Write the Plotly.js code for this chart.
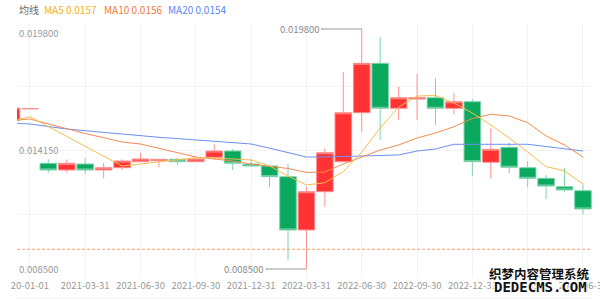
<!DOCTYPE html>
<html>
<head>
<meta charset="utf-8">
<script src="https://cdn.plot.ly/plotly-3.0.1.min.js"></script>
<style>html,body{margin:0;padding:0;background:#fff;}#chart{width:600px;height:301px;}</style>
</head>
<body>
<div id="chart"></div>
<script>
// ---- data (monthly candles) ----
var months = ["2020-11","2020-12","2021-01","2021-02","2021-03","2021-04","2021-05","2021-06","2021-07","2021-08","2021-09","2021-10","2021-11","2021-12","2022-01","2022-02","2022-03","2022-04","2022-05","2022-06","2022-07","2022-08","2022-09","2022-10","2022-11","2022-12","2023-01","2023-02","2023-03","2023-04","2023-05","2023-06"];
var openVals  = [0.015492,0.016048,0.013477,0.013162,0.013444,0.013162,0.013270,0.013552,0.013600,0.013665,0.013552,0.013760,0.014056,0.013444,0.013350,0.012846,0.010337,0.012140,0.013552,0.015859,0.018185,0.016067,0.016504,0.016566,0.016067,0.016377,0.013524,0.014230,0.013270,0.012771,0.012375,0.012187];
var highVals  = [0.016081,0.016049,0.013665,0.013665,0.013741,0.013505,0.013665,0.013976,0.013665,0.013741,0.013680,0.014372,0.014150,0.013680,0.013370,0.013444,0.012375,0.014183,0.017776,0.019800,0.019409,0.017084,0.017681,0.017479,0.016773,0.016490,0.015125,0.014447,0.013585,0.012926,0.013270,0.012489];
var lowVals   = [0.015492,0.016048,0.013035,0.013035,0.012973,0.012771,0.013162,0.013552,0.013289,0.013397,0.013552,0.013633,0.013162,0.013317,0.012347,0.008925,0.008500,0.011434,0.013552,0.014965,0.014574,0.015516,0.015516,0.015280,0.015784,0.012879,0.012771,0.013006,0.012347,0.011782,0.012140,0.011076];
var closeVals = [0.016081,0.016049,0.013162,0.013477,0.013162,0.013270,0.013585,0.013680,0.013665,0.013552,0.013680,0.014056,0.013477,0.013350,0.012846,0.010337,0.012140,0.013976,0.015859,0.018185,0.016067,0.016566,0.016566,0.016067,0.016377,0.013552,0.014136,0.013289,0.012771,0.012408,0.012220,0.011326];
var ma5  = [0.015450,0.015671,0.015205,0.014739,0.014278,0.013807,0.013350,0.013444,0.013538,0.013633,0.013741,0.013727,0.013680,0.013633,0.013350,0.012879,0.012456,0.012564,0.013082,0.014009,0.015139,0.016128,0.016646,0.016669,0.016316,0.015845,0.015280,0.014668,0.014009,0.013326,0.013115,0.012503];
var ma10 = [0.015497,0.015563,0.015332,0.015101,0.014880,0.014682,0.014480,0.014386,0.014179,0.013981,0.013774,0.013680,0.013585,0.013444,0.013350,0.013232,0.013044,0.013068,0.013444,0.013774,0.014103,0.014339,0.014668,0.014904,0.015200,0.015586,0.015784,0.015704,0.015389,0.014762,0.014339,0.013774];
var ma20 = [0.015374,0.015327,0.015210,0.015092,0.015012,0.014927,0.014843,0.014762,0.014701,0.014640,0.014574,0.014513,0.014452,0.014386,0.014188,0.013990,0.013774,0.013774,0.013788,0.013821,0.013844,0.013868,0.014056,0.014150,0.014372,0.014372,0.014372,0.014372,0.014372,0.014268,0.014150,0.014056];
var tickMonths = ["2020-12","2021-03","2021-06","2021-09","2021-12","2022-03","2022-06","2022-09","2022-12","2023-03","2023-06"];
var tickLabels = ["20-01-01","2021-03-31","2021-06-30","2021-09-30","2021-12-31","2022-03-31","2022-06-30","2022-09-30","2022-12-31","2023-03-31","2023-06-30"];
var legendLabel = "均线";
var legendItems = ["MA5 0.0157","MA10 0.0156","MA20 0.0154"];
var refLine = 0.009428;
var yMin = 0.008076, yMax = 0.020083;
var watermark1 = "织梦内容管理系统", watermark2 = "DEDECMS.COM";

// ---- derived ----
var maxHigh = Math.max.apply(null, highVals), minLow = Math.min.apply(null, lowVals);
var iMax = highVals.indexOf(maxHigh), iMin = lowVals.indexOf(minLow);
var gridVals = []; for (var g = 0; g <= 4; g++) gridVals.push(yMin + (yMax - yMin) * g / 4);

var FONT = '"Noto Sans CJK SC", "Noto Sans", sans-serif';
var cMA5 = '#f8bd4e', cMA10 = '#f58b4f', cMA20 = '#6e8ef4';

var traces = [
  {type:'candlestick', x: months, open: openVals, high: highVals, low: lowVals, close: closeVals,
   increasing:{fillcolor:'#ff3333', line:{color:'#ff9090', width:1}},
   decreasing:{fillcolor:'#0aa95f', line:{color:'#7fd4ad', width:1}},
   whiskerwidth:0, hoverinfo:'skip', showlegend:false},
  {type:'scatter', mode:'lines', x: months, y: ma20, line:{color:cMA20, width:1}, hoverinfo:'skip', showlegend:false},
  {type:'scatter', mode:'lines', x: months, y: ma10, line:{color:cMA10, width:1}, hoverinfo:'skip', showlegend:false},
  {type:'scatter', mode:'lines', x: months, y: ma5, line:{color:cMA5, width:1}, hoverinfo:'skip', showlegend:false}
];

var lblFont = {family: FONT, size: 9.5, color:'#999'};
var annotations = [
  {xref:'paper', yref:'paper', x:0, y:1, xanchor:'left', yanchor:'top', yshift:-1, text:maxHigh.toFixed(6), showarrow:false, font:lblFont},
  {xref:'paper', yref:'paper', x:0, y:0.5, xanchor:'left', yanchor:'middle', yshift:1, text:((maxHigh+minLow)/2).toFixed(6), showarrow:false, font:lblFont},
  {xref:'paper', yref:'paper', x:0, y:0, xanchor:'left', yanchor:'bottom', yshift:0, text:minLow.toFixed(6), showarrow:false, font:lblFont},
  {xref:'x', yref:'y', x: iMax, y: maxHigh, ax:-40, ay:0, axref:'pixel', ayref:'pixel', xanchor:'right', text:maxHigh.toFixed(6), showarrow:true, arrowhead:0, arrowwidth:1, arrowcolor:'#999', arrowside:'end+start', startarrowhead:6, startarrowsize:0.4, font:{family:FONT,size:9.5,color:'#888'}},
  {xref:'x', yref:'y', x: iMin, y: minLow, ax:-40, ay:0, axref:'pixel', ayref:'pixel', xanchor:'right', text:minLow.toFixed(6), showarrow:true, arrowhead:0, arrowwidth:1, arrowcolor:'#999', arrowside:'end+start', startarrowhead:6, startarrowsize:0.4, font:{family:FONT,size:9.5,color:'#888'}},
  {xref:'paper', yref:'paper', x:0, y:1.0549, xanchor:'left', yanchor:'middle', text:legendLabel, showarrow:false, font:{family:FONT,size:10,color:'#666'}},
  {xref:'paper', yref:'paper', x:0.0435, y:1.0549, xanchor:'left', yanchor:'middle', text:legendItems[0], showarrow:false, font:{family:FONT,size:10,color:'#f5b026'}},
  {xref:'paper', yref:'paper', x:0.1478, y:1.0549, xanchor:'left', yanchor:'middle', text:legendItems[1], showarrow:false, font:{family:FONT,size:10,color:'#f5793f'}},
  {xref:'paper', yref:'paper', x:0.2591, y:1.0549, xanchor:'left', yanchor:'middle', text:legendItems[2], showarrow:false, font:{family:FONT,size:10,color:'#5b86f5'}},
  {xref:'paper', yref:'paper', x:0.9087, y:0.0196, xanchor:'center', yanchor:'middle', text:'<b>'+watermark1+'</b>', showarrow:false,
   font:{family:FONT,size:12.5,color:'#111', shadow:'1px 1px 0 #fff, -1px -1px 0 #fff, 1px -1px 0 #fff, -1px 1px 0 #fff, 0 1px 1px #bbb'}},
  {xref:'paper', yref:'paper', x:0.9104, y:-0.034, xanchor:'center', yanchor:'middle', text:'<b>'+watermark2+'</b>', showarrow:false,
   font:{family:'"DejaVu Sans Mono", monospace',size:14,color:'#111', shadow:'1px 1px 0 #fff, -1px -1px 0 #fff, 1px -1px 0 #fff, -1px 1px 0 #fff, 0 1px 1px #bbb'}}
];

var shapes = [
  {type:'line', xref:'paper', yref:'y', x0:0, x1:1, y0:refLine, y1:refLine, line:{color:'#f8a070', width:1, dash:'3px,2px'}},
  {type:'line', xref:'paper', yref:'paper', x0:0, x1:1, y0:-0.078, y1:-0.078, line:{color:'#f0f0f0', width:1}}
];

var layout = {
  width:600, height:301,
  margin:{l:17, r:8, t:23, b:23, pad:0},
  paper_bgcolor:'#fff', plot_bgcolor:'#fff',
  font:{family:FONT, size:9.5, color:'#999'},
  showlegend:false,
  boxgap:0.05, boxgroupgap:0.05,
  xaxis:{type:'category', range:[0.3, 31.49], tickmode:'array', tickvals:tickMonths, ticktext:tickLabels,
         showgrid:true, gridcolor:'#f3f3f3', gridwidth:1, zeroline:false, showline:false, ticks:'',
         tickfont:{family:FONT, size:9.5, color:'#999'}, rangeslider:{visible:false}, fixedrange:true},
  yaxis:{range:[yMin, yMax], tickmode:'array', tickvals:gridVals, showticklabels:false,
         showgrid:true, gridcolor:'#f3f3f3', gridwidth:1, zeroline:false, showline:false, ticks:'', fixedrange:true},
  annotations: annotations,
  shapes: shapes
};

Plotly.newPlot('chart', traces, layout, {displayModeBar:false, staticPlot:true});
</script>
</body>
</html>
